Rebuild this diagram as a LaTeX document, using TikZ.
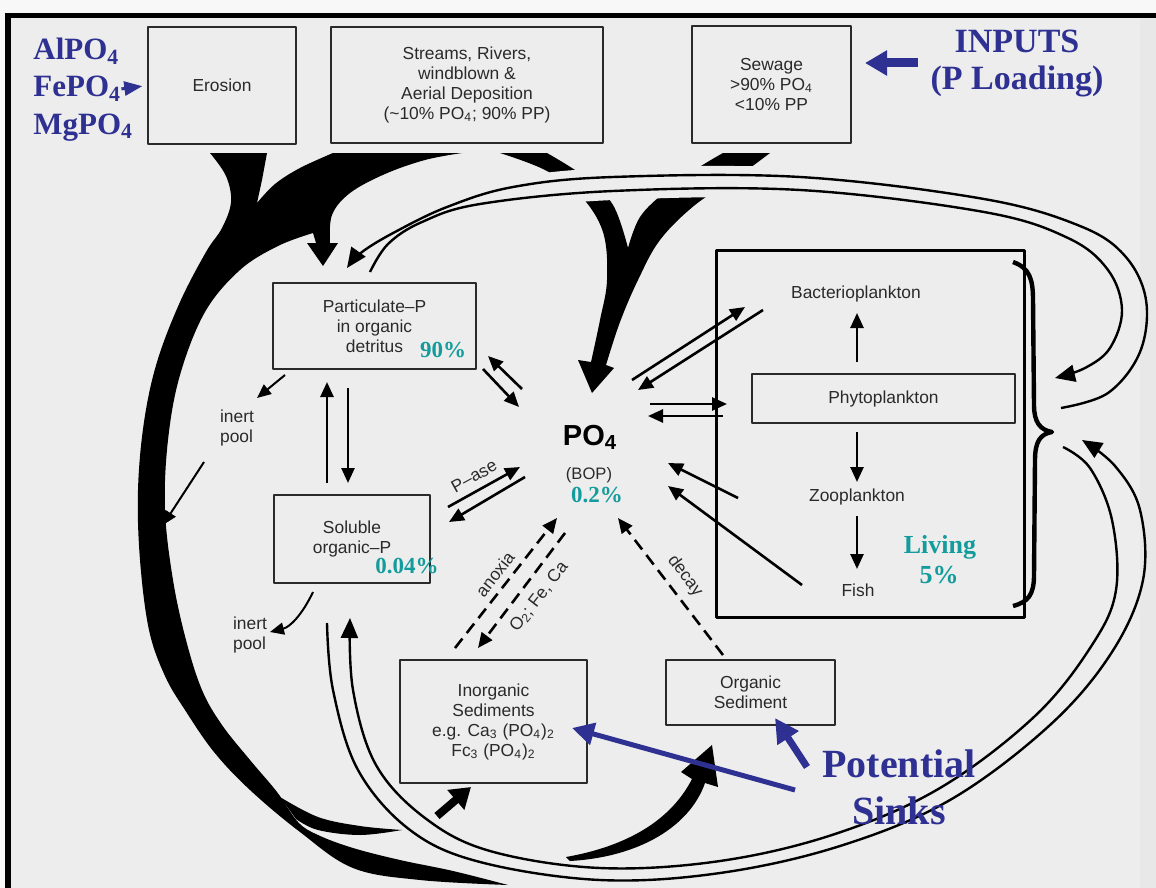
\documentclass[tikz,border=0pt]{standalone}
\usepackage{fontspec}
\setmainfont{Liberation Serif}
\newfontfamily\dsans{Liberation Sans}
\usetikzlibrary{arrows.meta}
\definecolor{bgc}{HTML}{EDEDED}
\definecolor{ink}{HTML}{2A2A2A}
\definecolor{tealx}{HTML}{149C9C}
\definecolor{blu}{HTML}{2E3192}
\tikzset{
 box/.style={draw=ink, line width=0.75pt, inner sep=0pt, font=\dsans\fontsize{8.7}{10}\selectfont, text=ink, align=center},
 lbl/.style={font=\dsans\fontsize{8.7}{10}\selectfont, text=ink, align=center, inner sep=0pt},
 arr/.style={draw=black, line width=1.3pt, -{Triangle[length=7.5pt,width=6.5pt]}},
 smallarr/.style={draw=black, line width=1pt, -{Triangle[length=7pt,width=6pt]}},
 darr/.style={arr, dash pattern=on 6pt off 3.5pt},
 arcline/.style={draw=black, line width=1.2pt},
 archead/.style={arcline, -{Triangle[length=10pt,width=8.5pt]}},
 halo/.style={draw=bgc, line width=9pt},
 tlab/.style={font=\bfseries\fontsize{11.5}{12}\selectfont, text=tealx, inner sep=0pt},
 blab/.style={font=\bfseries\fontsize{15.5}{16}\selectfont, text=blu, inner sep=0pt},
 barr/.style={draw=blu, line width=2.5pt, -{Triangle[length=11pt,width=11pt]}},
}
\begin{document}
\begin{tikzpicture}[x=0.5pt,y=-0.5pt,line join=round]
\useasboundingbox (0,0) rectangle (1156,888);
% background and frame
\fill[bgc] (0,0) rectangle (1156,888);
\fill[bgc!40!white] (0,0) rectangle (1156,13);
\fill[bgc!40!white] (0,0) rectangle (5,888);
\fill[black!9] (1140,18) rectangle (1156,888);
\fill[black] (5,13) rectangle (1156,18);
\fill[black] (5,13) rectangle (11,888);

% big black band (erosion + streams particulate flow)
\fill[black] (210,153)
 -- plot[smooth, tension=0.6] coordinates {(210,153) (226,176) (231,202) (222,228) (206,252) (180,302) (157,362) (144,422) (138,490) (140,560) (149,630) (165,676) (185,710) (214,752) (250,790) (300,832) (353,868) (420,880) (508,885)}
 -- plot[smooth, tension=0.6] coordinates {(508,885) (453,871) (400,860) (353,848) (318,835) (298,822) (277,792) (250,760) (222,725) (202,690) (186,640) (173,580) (165,510) (168,440) (180,375) (205,312) (240,270) (278,246) (313,233)}
 -- (316,243) -- (307,243) -- (323,266) -- (338,243) -- (330,243)
 -- plot[smooth, tension=0.6] coordinates {(330,243) (332,215) (350,193) (385,174) (425,160) (462,153)}
 -- (333,153)
 -- plot[smooth, tension=0.6] coordinates {(333,153) (300,168) (275,184) (257,203)}
 -- (262,180) -- (267,153) -- cycle;
% sliver
\fill[black] plot[smooth, tension=0.6] coordinates {(280,797) (318,817) (360,826) (402,830)}
 -- plot[smooth, tension=0.6] coordinates {(402,830) (360,835) (318,830) (296,819)} -- cycle;
% Y shaped flow to PO4
\fill[black] (500,153) -- (547,153)
 -- plot[smooth, tension=0.6] coordinates {(547,153) (585,177) (613,205) (628,248)}
 -- plot[smooth, tension=0.6] coordinates {(628,248) (640,217) (665,192) (698,168) (723,153)}
 -- (770,153)
 -- plot[smooth, tension=0.6] coordinates {(770,153) (736,178) (695,205) (660,240) (638,280) (620,322) (606,365)}
 -- (614,368) -- (592,393) -- (578,360) -- (591,362)
 -- plot[smooth, tension=0.6] coordinates {(591,362) (600,320) (607,280) (603,232) (580,195) (545,170) (500,153)}
 -- cycle;
% black arrow to organic sediment
\fill[black] (566,857) .. controls (628,846) and (671,820) .. (692,779) -- (681,772) -- (712,745) -- (718,787) -- (705,783) .. controls (690,826) and (640,857) .. (570,861) -- cycle;
% black arrow to inorganic sediments
\coordinate (inoA) at (437,816);
\coordinate (inoB) at (471,787);
\draw[line width=4pt, -{Triangle[length=10pt,width=12.5pt]}] (inoA) -- (inoB);

% arcs
\coordinate (tO1) at (1061,408); \coordinate (tO2) at (347,268);
\coordinate (tI1) at (370,272); \coordinate (tI2) at (1055,378);
\coordinate (bO1) at (327,623); \coordinate (bO2) at (1082,440);
\coordinate (bI1) at (1063,447); \coordinate (bI2) at (350,618);
\begin{scope}
\clip (480,140) rectangle (800,230);
\draw[halo] plot[smooth, tension=0.6] coordinates {(1061,408) (1108,393) (1140,352) (1146,300) (1125,256) (1080,226) (984,199) (800,177) (613,177) (513,187) (447,207) (395,232) (362,252) (347,268)};
\draw[halo] plot[smooth, tension=0.6] coordinates {(370,272) (388,244) (422,222) (480,204) (613,191) (800,190) (984,212) (1068,238) (1108,270) (1122,310) (1110,348) (1085,368) (1055,378)};
\end{scope}
\draw[archead] plot[smooth, tension=0.6] coordinates {(tO1) (1108,393) (1140,352) (1146,300) (1125,256) (1080,226) (984,199) (800,177) (613,177) (513,187) (447,207) (395,232) (362,252) (tO2)};
\draw[archead] plot[smooth, tension=0.6] coordinates {(tI1) (388,244) (422,222) (480,204) (613,191) (800,190) (984,212) (1068,238) (1108,270) (1122,310) (1110,348) (1085,368) (tI2)};
\draw[archead] plot[smooth, tension=0.6] coordinates {(bO1) (333,690) (358,770) (410,830) (480,862) (600,880) (720,873) (840,846) (950,800) (1050,725) (1112,652) (1143,580) (1140,510) (1115,466) (bO2)};
\draw[archead] plot[smooth, tension=0.6] coordinates {(bI1) (1090,468) (1112,520) (1116,590) (1092,645) (1035,716) (940,788) (835,834) (720,861) (600,868) (490,851) (425,818) (376,765) (353,690) (bI2)};

% boxes
\node[box, minimum width=74pt, minimum height=58.5pt] (erosion) at (222,85.5) {Erosion};
\node[box, minimum width=136pt, minimum height=58pt] (streams) at (467,85) {Streams, Rivers,\\windblown \&\\Aerial Deposition\\(\textasciitilde10\% PO\textsubscript{4}; 90\% PP)};
\node[box, minimum width=79.5pt, minimum height=58.5pt] (sewage) at (771.5,84.5) {Sewage\\>90\% PO\textsubscript{4}\\<10\% PP};
\node[box, minimum width=101.5pt, minimum height=43pt] (partic) at (374.5,326) {Particulate\textendash P\\in organic\\detritus};
\node[box, minimum width=78pt, minimum height=44pt] (soluble) at (352,539) {Soluble\\organic\textendash P};
\node[box, minimum width=93.5pt, minimum height=61.5pt] (inorg) at (493.5,721.5) {Inorganic\\Sediments\\e.g. Ca\textsubscript{3} (PO\textsubscript{4})\textsubscript{2}\\Fc\textsubscript{3} (PO\textsubscript{4})\textsubscript{2}};
\node[box, minimum width=84.5pt, minimum height=32.5pt] (orgsed) at (750.5,692.5) {Organic\\Sediment};
\node[draw=black, line width=1.5pt, minimum width=154pt, minimum height=183.5pt, inner sep=0pt] (living) at (870,433.5) {};
\node[box, minimum width=131.5pt, minimum height=24.5pt] (phyto) at (883.5,398.5) {Phytoplankton};

% plain labels
\node[lbl] (bact) at (856,294) {Bacterioplankton};
\node[lbl] (zoo) at (857,497) {Zooplankton};
\node[lbl] (fish) at (858,590) {Fish};
\node[lbl, align=left] (inert1) at (237,428) {inert\\pool};
\node[lbl, align=left] (inert2) at (250,635) {inert\\pool};
\node[font=\dsans\bfseries\fontsize{14.5}{15}\selectfont, text=black, anchor=base, inner sep=0pt] (po4) at (590,445) {PO\textsubscript{4}};
\node[lbl, font=\dsans\fontsize{8.3}{10}\selectfont] (bop) at (589,475) {(BOP)};
\node[lbl, rotate=29] (pase) at (474,476) {P\textendash ase};
\node[lbl, rotate=52] (anox) at (495,574) {anoxia};
\node[lbl, rotate=52] (ofeca) at (539,597) {O\textsubscript{2}; Fe, Ca};
\node[lbl, rotate=-53] (decay) at (685,576) {decay};

% brace
\draw[line width=2.2pt] (1013,262) .. controls (1030,268) and (1033,280) .. (1033,300) -- (1034,405) .. controls (1034,422) and (1040,430) .. (1052,432) .. controls (1040,434) and (1035,442) .. (1035,460) -- (1034,575) .. controls (1034,595) and (1028,602) .. (1013,606);

% arrows around PO4
\coordinate (pp1) at (522,389); \coordinate (pp2) at (488,356);
\coordinate (pp3) at (483,369); \coordinate (pp4) at (519,407);
\draw[arr] (pp1) -- (pp2);
\draw[arr] (pp3) -- (pp4);
\coordinate (sp1) at (448,507); \coordinate (sp2) at (520,467);
\coordinate (sp3) at (525,477); \coordinate (sp4) at (449,522);
\draw[arr] (sp1) -- (sp2);
\draw[arr] (sp3) -- (sp4);
\coordinate (v1) at (327,483); \coordinate (v2) at (327,382);
\coordinate (v3) at (348,388); \coordinate (v4) at (348,483);
\draw[arr] (v1) -- (v2);
\draw[arr] (v3) -- (v4);
\coordinate (dx1) at (455,648); \coordinate (dx2) at (557,518);
\coordinate (dx3) at (565,533); \coordinate (dx4) at (478,648);
\coordinate (dc1) at (723,655); \coordinate (dc2) at (618,518);
\draw[darr] (dx1) -- (dx2);
\draw[darr] (dx3) -- (dx4);
\draw[darr] (dc1) -- (dc2);
\coordinate (b1) at (632,380); \coordinate (b2) at (745,307);
\coordinate (b3) at (763,310); \coordinate (b4) at (638,390);
\coordinate (h1) at (650,404); \coordinate (h2) at (727,404);
\coordinate (h3) at (723,416); \coordinate (h4) at (648,416);
\coordinate (z1) at (738,498); \coordinate (z2) at (668,463);
\coordinate (f1) at (802,585); \coordinate (f2) at (668,486);
\draw[arr] (b1) -- (b2);
\draw[arr] (b3) -- (b4);
\draw[arr] (h1) -- (h2);
\draw[arr] (h3) -- (h4);
\draw[arr] (z1) -- (z2);
\draw[arr] (f1) -- (f2);
\coordinate (l1) at (857,362); \coordinate (l2) at (857,313);
\coordinate (l3) at (857,432); \coordinate (l4) at (857,482);
\coordinate (l5) at (857,516); \coordinate (l6) at (857,569);
\draw[arr] (l1) -- (l2);
\draw[arr] (l3) -- (l4);
\draw[arr] (l5) -- (l6);
% inert pool arrows
\coordinate (i1) at (285,375); \coordinate (i2) at (257,398);
\coordinate (i3) at (204,462); \coordinate (i4) at (163,525);
\coordinate (i5) at (313,592); \coordinate (i6) at (270,632);
\draw[smallarr] (i1) -- (i2);
\draw[smallarr] (i3) -- (i4);
\draw[smallarr] (i5) .. controls (302,615) and (290,627) .. (i6);

% teal labels
\node[tlab, anchor=base] (p90) at (443,357) {90\%};
\node[tlab, anchor=base] (p02) at (597,502) {0.2\%};
\node[tlab, anchor=base] (p004) at (407,573) {0.04\%};
\node[tlab, anchor=base, font=\bfseries\fontsize{13}{14}\selectfont] (liv) at (940,553) {Living};
\node[tlab, anchor=base, font=\bfseries\fontsize{13}{14}\selectfont] (liv5) at (939,583) {5\%};

% blue labels
\node[blab, anchor=base west] (al) at (33,60) {AlPO\textsubscript{4}};
\node[blab, anchor=base west] (fe) at (33,97) {FePO\textsubscript{4}};
\node[blab, anchor=base west] (mg) at (33,134) {MgPO\textsubscript{4}};
\draw[draw=blu, line width=1.5pt, -{Triangle[length=9pt,width=7pt]}, shorten >=2.5pt] (fe.east) -- (erosion.west);
\node[blab, font=\bfseries\fontsize{17}{18}\selectfont, anchor=base] (inp) at (1017,53) {INPUTS};
\node[blab, font=\bfseries\fontsize{17}{18}\selectfont, anchor=base] (ploa) at (1017,90) {(P Loading)};
\coordinate (ia) at (918,63); \coordinate (ib) at (865,63);
\draw[draw=blu, line width=4.5pt, -{Triangle[length=11pt,width=12pt]}] (ia) -- (ib);
\node[blab, font=\bfseries\fontsize{20}{22}\selectfont, anchor=base] (pot) at (899,777) {Potential};
\node[blab, font=\bfseries\fontsize{20}{22}\selectfont, anchor=base] (sinks) at (899,824) {Sinks};
\coordinate (ps1) at (795,790); \coordinate (ps2) at (572,728);
\coordinate (ps3) at (807,767); \coordinate (ps4) at (775,718);
\draw[barr] (ps1) -- (ps2);
\draw[barr, line width=3.5pt, -{Triangle[length=12pt,width=12pt]}] (ps3) -- (ps4);
\end{tikzpicture}
\end{document}
